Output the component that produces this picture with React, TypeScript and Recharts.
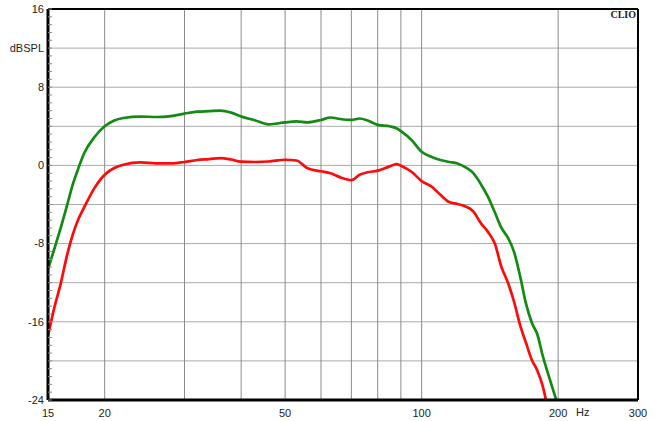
import React from 'react';
import { LineChart, Line, XAxis, YAxis, ReferenceLine } from 'recharts';

// frequency points (Hz)
const freqs = [15, 15.5, 16, 16.5, 17, 17.5, 18, 19, 20, 21, 22, 24, 26, 28, 30, 32, 34, 36, 38, 40, 43, 46, 50, 53, 56, 60, 63, 66, 70, 73, 76, 80, 85, 88, 90, 95, 100, 105, 110, 115, 120, 125, 130, 135, 140, 145, 150, 155, 160, 165, 170, 175, 180, 185, 190, 195, 200];

const greenLevel = [-10.6, -8.5, -6.4, -4.2, -2.0, -0.3, 1.2, 2.9, 4.0, 4.6, 4.85, 5.0, 4.95, 5.05, 5.3, 5.5, 5.55, 5.6, 5.4, 5.0, 4.6, 4.2, 4.4, 4.5, 4.4, 4.65, 4.9, 4.75, 4.65, 4.8, 4.6, 4.15, 4.0, 3.8, 3.5, 2.6, 1.4, 0.88, 0.55, 0.35, 0.2, -0.2, -0.8, -1.9, -3.2, -4.8, -6.4, -7.4, -8.9, -11.4, -14.2, -16.1, -17.3, -19.5, -21.3, -23.0, -24.6];

const redLevel = [-17.4, -14.5, -12.1, -9.3, -7.1, -5.5, -4.35, -2.3, -0.95, -0.27, 0.07, 0.3, 0.2, 0.2, 0.35, 0.55, 0.65, 0.75, 0.6, 0.38, 0.35, 0.4, 0.58, 0.5, -0.3, -0.6, -0.8, -1.2, -1.5, -0.95, -0.7, -0.54, -0.1, 0.14, -0.03, -0.65, -1.6, -2.15, -3.0, -3.75, -3.95, -4.2, -4.7, -5.9, -6.8, -8.0, -10.4, -12.0, -14.0, -16.4, -18.2, -19.9, -21.0, -22.6, -25.0, null, null];

const xTickLabels = [15, 20, 50, 100, 200, 300];
const xGrid = [20, 30, 40, 50, 60, 70, 80, 90, 100, 200];
const yGrid = [-24, -20, -16, -12, -8, -4, 0, 4, 8, 12, 16];
const yLabels: Record<number, string> = { 16: '16', 12: 'dBSPL', 8: '8', 0: '0', [-8]: '-8', [-16]: '-16', [-24]: '-24' };

const data = freqs.map((f, i) => ({ f, green: greenLevel[i], red: redLevel[i] }));

// minor ticks every 0.8 dB along both vertical borders
const minorTicks = Array.from({ length: 51 }, (_, i) => Math.round((-24 + i * 0.8) * 10) / 10);

const FONT = '"Liberation Sans", Arial, sans-serif';

const LeftTick = (props: any) => {
  const { x, y, payload } = props;
  const label = yLabels[payload.value];
  return (
    <g>
      <line x1={x + 4} x2={x + 8} y1={y} y2={y} stroke="#888" strokeWidth={1} />
      {label !== undefined && (
        <text x={x} y={y} dy="0.35em" textAnchor="end" fontSize={11} fill="#222" fontFamily={FONT}>
          {label}
        </text>
      )}
    </g>
  );
};

const RightTick = (props: any) => {
  const { x, y } = props;
  return <line x1={x - 4} x2={x} y1={y} y2={y} stroke="#888" strokeWidth={1} />;
};

export default function App() {
  return (
    <div style={{ position: 'relative', width: 657, height: 421, background: '#fff' }}>
      <style>{'body{margin:0}'}</style>
      <LineChart width={657} height={421} data={data} margin={{ top: 0, right: 0, left: 0, bottom: 0 }}>
        <XAxis
          dataKey="f"
          type="number"
          scale="log"
          domain={[15, 300]}
          ticks={xTickLabels}
          interval={0}
          allowDataOverflow
          height={21}
          tickLine={false}
          tickSize={0}
          tickMargin={9}
          axisLine={{ stroke: '#000', strokeWidth: 3 }}
          tick={{ fontSize: 11, fill: '#222', fontFamily: FONT }}
        />
        <XAxis
          xAxisId="top"
          orientation="top"
          type="number"
          scale="log"
          domain={[15, 300]}
          height={9}
          tick={false}
          tickLine={false}
          axisLine={{ stroke: '#000', strokeWidth: 2 }}
        />
        <YAxis
          type="number"
          domain={[-24, 16]}
          ticks={minorTicks}
          interval={0}
          allowDataOverflow
          width={48}
          tickLine={false}
          tickSize={0}
          tickMargin={4}
          axisLine={{ stroke: '#000', strokeWidth: 3 }}
          tick={<LeftTick />}
        />
        <YAxis
          yAxisId="right"
          orientation="right"
          type="number"
          domain={[-24, 16]}
          ticks={minorTicks}
          interval={0}
          width={19}
          tickLine={false}
          tickSize={0}
          tickMargin={0}
          axisLine={{ stroke: '#000', strokeWidth: 2 }}
          tick={<RightTick />}
        />
        {yGrid.slice(1, -1).map((v) => (
          <ReferenceLine key={'h' + v} y={v} stroke="#aaaaaa" strokeWidth={1} />
        ))}
        {xGrid.map((f) => (
          <ReferenceLine key={'v' + f} x={f} stroke="#8c8c8c" strokeWidth={1} />
        ))}
        <Line
          type="monotone"
          dataKey="green"
          stroke="#138a13"
          strokeWidth={2.7}
          dot={false}
          isAnimationActive={false}
        />
        <Line
          type="monotone"
          dataKey="red"
          stroke="#ff0a0a"
          strokeWidth={2.7}
          dot={false}
          isAnimationActive={false}
        />
      </LineChart>
      <div style={{ position: 'absolute', left: 576, top: 406, fontSize: 11, color: '#222', fontFamily: FONT }}>Hz</div>
      <div style={{ position: 'absolute', right: 21, top: 9, fontSize: 10, fontWeight: 'bold', color: '#222', fontFamily: '"Liberation Serif", "DejaVu Serif", serif' }}>CLIO</div>
    </div>
  );
}
